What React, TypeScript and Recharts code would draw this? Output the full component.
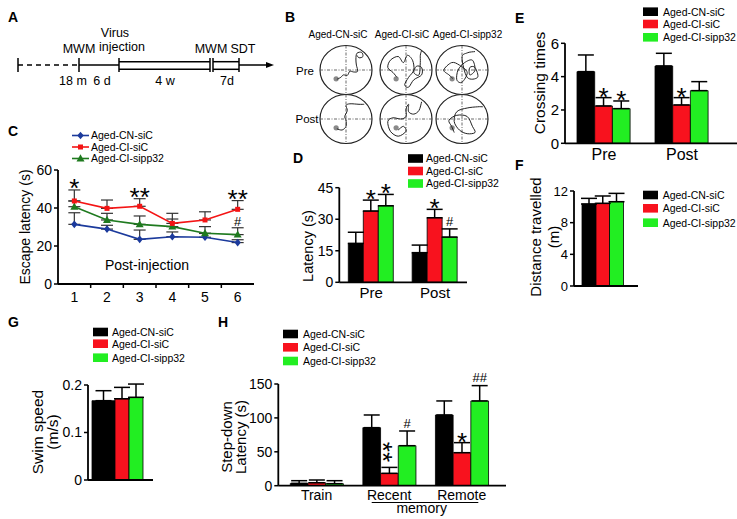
import React from "react";
import { BarChart, Bar, LineChart, Line, XAxis, YAxis, ErrorBar, LabelList } from "recharts";

const FONT = '"Liberation Sans", Arial, Helvetica, sans-serif';

// groups shared by every panel
const groupNames = ["Aged-CN-siC", "Aged-CI-siC", "Aged-CI-sipp32"];
const barFill = ["#000000", "#f8121e", "#22ee22"];
const lineStroke = ["#1b3a9c", "#f41414", "#1f7a1f"];

// C: escape latency by day
const days = [1, 2, 3, 4, 5, 6];
const escapeCN = [31.4, 28.9, 23.5, 24.9, 24.6, 21.8];
const escapeCNErr = [6.1, 2.0, 4.9, 2.5, 2.0, 1.5];
const escapeCI = [43.7, 39.8, 40.9, 31.9, 33.7, 39.3];
const escapeCIErr = [5.8, 4.4, 4.0, 5.3, 4.3, 4.6];
const escapeSi = [40.7, 33.7, 31.4, 30.2, 26.7, 26.0];
const escapeSiErr = [3.0, 3.5, 4.4, 4.0, 3.5, 3.6];
const escapeCISig = ["*", "", "**", "", "", "**"];
const escapeSiSig = ["", "", "", "", "", "#"];

// D: latency
const dCats = ["Pre", "Post"];
const dValues = [[18.5, 14.1], [33.9, 30.7], [36.4, 21.5]];
const dErrors = [[5.3, 3.6], [5.2, 4.0], [5.4, 3.9]];
const dSigs = [["", ""], ["*", "*"], ["*", "#"]];

// E: crossing times
const eCats = ["Pre", "Post"];
const eValues = [[4.3, 4.64], [2.24, 2.3], [2.08, 3.16]];
const eErrors = [[1.0, 0.76], [0.5, 0.44], [0.46, 0.54]];
const eSigs = [["", ""], ["*", "*"], ["*", ""]];

// F: distance travelled
const fCats = [""];
const fValues = [[10.36], [10.44], [10.65]];
const fErrors = [[0.71], [0.93], [1.05]];

// G: swim speed
const gCats = [""];
const gValues = [[0.167], [0.171], [0.174]];
const gErrors = [[0.021], [0.024], [0.028]];

// H: step-down latency ("|" = stars stacked vertically)
const hCats = ["Train", "Recent", "Remote"];
const hValues = [[3.4, 85.6, 104.3], [4.4, 18.2, 48.7], [3.0, 59.0, 125.0]];
const hErrors = [[4.0, 18.7, 20.7], [4.0, 8.8, 14.8], [4.4, 21.7, 22.6]];
const hSigs = [["", "", ""], ["", "|**", "*"], ["", "#", "##"]];

// B: swim tracks (unit circle coords)
const tracks: number[][][] = [
  [[-0.35, 0.38], [-0.2, 0.3], [-0.1, 0.2], [0.05, 0.22], [0.15, 0.05], [0.3, 0.08], [0.45, 0.05], [0.4, -0.2], [0.38, -0.45], [0.42, -0.68], [0.6, -0.72], [0.65, -0.55], [0.5, -0.5], [0.42, -0.6]],
  [[-0.35, 0.3], [-0.5, 0.1], [-0.7, -0.1], [-0.6, -0.4], [-0.3, -0.55], [-0.1, -0.3], [0.05, -0.6], [0.25, -0.4], [0.3, 0.0], [0.1, 0.3], [-0.05, 0.6], [0.1, 0.7], [0.3, 0.4], [0.6, 0.2], [0.6, -0.1], [0.4, -0.15], [0.3, 0.1], [0.5, 0.2], [0.55, -0.3], [0.55, -0.6], [0.6, -0.8]],
  [[-0.35, 0.35], [-0.5, 0.2], [-0.7, 0.0], [-0.4, -0.3], [-0.1, -0.2], [0.2, 0.1], [0.0, 0.5], [-0.2, 0.4], [-0.15, 0.0], [0.1, -0.3], [0.4, -0.4], [0.5, 0.0], [0.3, 0.2], [0.3, -0.1], [0.5, -0.1], [0.6, 0.3], [0.2, 0.3], [0.0, -0.5], [0.2, -0.7], [0.5, -0.75]],
  [[-0.35, 0.4], [-0.15, 0.45], [0.0, 0.3], [0.0, 0.05], [-0.05, -0.1], [0.05, -0.35], [0.0, -0.55], [0.15, -0.62], [0.5, -0.6], [0.7, -0.6]],
  [[-0.3, 0.45], [-0.1, 0.3], [0.0, 0.5], [-0.3, 0.7], [-0.6, 0.5], [-0.7, 0.1], [-0.5, -0.05], [-0.2, 0.0], [0.0, -0.1], [0.0, -0.4], [0.1, -0.6], [0.1, -0.3], [0.3, -0.2], [0.5, -0.35], [0.6, -0.7]],
  [[-0.3, 0.55], [-0.4, 0.3], [-0.5, 0.05], [-0.2, -0.15], [0.2, -0.1], [0.4, 0.3], [0.5, 0.55], [0.2, 0.6], [-0.1, 0.45], [-0.3, 0.1], [-0.2, -0.3], [0.2, -0.45], [0.6, -0.5], [0.8, -0.5]],
];

const axisStyle = { stroke: "#000", strokeWidth: 1.8 };
const tickLineStyle = { stroke: "#000", strokeWidth: 1.5 };

function SigMark({ cx, base, text, gap = 7 }: { cx: number; base: number; text: string; gap?: number }) {
  if (text.startsWith("|")) {
    // vertical stack: horizontal stars turned a quarter turn
    const cy = base - 15.5;
    return (
      <text x={cx} y={cy + 15} fontSize={26} textAnchor="middle" fill="#000"
        transform={`rotate(90 ${cx} ${cy})`}>{text.slice(1)}</text>
    );
  }
  if (text.startsWith("*")) {
    return <text x={cx} y={base - gap + 15} fontSize={26} textAnchor="middle" fill="#000">{text}</text>;
  }
  return <text x={cx} y={base - gap - 1 + 4.7} fontSize={13} textAnchor="middle" fill="#000">{text}</text>;
}

const sigContent = (errs: number[], k: number, gap = 7) => (props: any) => {
  const text = props.value;
  if (!text) return null;
  const vb = props.viewBox && typeof props.viewBox.x === "number" ? props.viewBox : props;
  const i = props.index ?? 0;
  const cx = vb.x + (vb.width || 0) / 2;
  const top = vb.y - errs[i] * k;
  return <SigMark cx={cx} base={top} text={String(text)} gap={gap} />;
};

type BarPanelProps = {
  left: number; top: number; width: number; height: number;
  plotTop: number; yAxisWidth: number; right: number; xAxisHeight: number;
  cats: string[]; values: number[][]; errors: number[][]; sigs?: string[][];
  sizes: number[]; yMax: number; yTicks: number[];
  tickFont: number; catFont: number; catOffset: number;
  padLeft?: number; padRight?: number;
};

function BarPanel(p: BarPanelProps) {
  const plotH = p.height - p.plotTop - p.xAxisHeight;
  const k = plotH / p.yMax;
  const data = p.cats.map((c, i) => {
    const row: Record<string, any> = { cat: c };
    p.values.forEach((vals, s) => {
      row[`v${s}`] = vals[i];
      row[`e${s}`] = [0, p.errors[s][i]];
      row[`s${s}`] = p.sigs ? p.sigs[s][i] : "";
    });
    return row;
  });
  return (
    <div style={{ position: "absolute", left: p.left, top: p.top }}>
      <BarChart width={p.width} height={p.height} data={data} barGap={0}
        margin={{ top: p.plotTop, right: p.right, left: 0, bottom: 0 }}>
        <XAxis dataKey="cat" height={p.xAxisHeight} tickLine={false} tickSize={0} tickMargin={0}
          axisLine={axisStyle} interval={0}
          padding={{ left: p.padLeft ?? 0, right: p.padRight ?? 0 }}
          tick={(t: any) => (
            <text x={t.x} y={t.y + p.catOffset} textAnchor="middle" fontSize={p.catFont} fill="#000">
              {t.payload.value}
            </text>
          )} />
        <YAxis width={p.yAxisWidth} domain={[0, p.yMax]} ticks={p.yTicks} allowDataOverflow interval={0}
          tickSize={4} tickMargin={2} axisLine={axisStyle} tickLine={tickLineStyle}
          tick={{ fill: "#000", fontSize: p.tickFont }} />
        {p.values.map((_, s) => (
          <Bar key={s} dataKey={`v${s}`} fill={barFill[s]} stroke="#000" strokeWidth={0.8}
            barSize={p.sizes[s]} isAnimationActive={false}>
            <ErrorBar dataKey={`e${s}`} width={8} stroke="#000" strokeWidth={1.5} />
            <LabelList dataKey={`s${s}`} content={sigContent(p.errors[s], k)} />
          </Bar>
        ))}
      </BarChart>
    </div>
  );
}

function Diamond(props: any) {
  const { cx, cy, index } = props;
  if (cx == null || cy == null) return <g key={`dn-${index}`} />;
  return <polygon key={`d-${index}`} points={`${cx},${cy - 3.8} ${cx + 3.2},${cy} ${cx},${cy + 3.8} ${cx - 3.2},${cy}`} fill={lineStroke[0]} />;
}
function Square(props: any) {
  const { cx, cy, index } = props;
  if (cx == null || cy == null) return <g key={`sn-${index}`} />;
  return <rect key={`s-${index}`} x={cx - 2.5} y={cy - 2.5} width={5} height={5} fill={lineStroke[1]} />;
}
function Triangle(props: any) {
  const { cx, cy, index } = props;
  if (cx == null || cy == null) return <g key={`tn-${index}`} />;
  return <polygon key={`t-${index}`} points={`${cx},${cy - 4.2} ${cx + 4},${cy + 3} ${cx - 4},${cy + 3}`} fill={lineStroke[2]} />;
}

function EscapeChart() {
  const k = 114 / 60;
  const data = days.map((d, i) => ({
    day: d,
    cn: escapeCN[i], cnE: [0, escapeCNErr[i]],
    ci: escapeCI[i], ciE: [0, escapeCIErr[i]], ciS: escapeCISig[i],
    si: escapeSi[i], siE: [0, escapeSiErr[i]], siS: escapeSiSig[i],
  }));
  const ticks = [...days, ...days.slice(0, -1).map((d) => d + 0.5)].sort((a, b) => a - b);
  return (
    <div style={{ position: "absolute", left: 0, top: 120 }}>
      <LineChart width={270} height={200} data={data} margin={{ top: 50, right: 16, left: 0, bottom: 0 }}>
        <XAxis dataKey="day" type="number" domain={[0.5, 6.5]} ticks={ticks} interval={0} allowDataOverflow
          height={36} tickLine={false} tickSize={0} tickMargin={0} axisLine={axisStyle}
          tick={(t: any) =>
            Number.isInteger(t.payload.value) ? (
              <text x={t.x} y={t.y + 17.5} textAnchor="middle" fontSize={14} fill="#000">{t.payload.value}</text>
            ) : (
              <line x1={t.x} x2={t.x} y1={t.y} y2={t.y + 4} stroke="#000" strokeWidth={1.5} />
            )
          } />
        <YAxis width={58} domain={[0, 60]} ticks={[0, 20, 40, 60]} interval={0} allowDataOverflow
          tickSize={4} tickMargin={2} axisLine={axisStyle} tickLine={tickLineStyle}
          tick={{ fill: "#000", fontSize: 14 }} />
        <Line dataKey="cn" stroke={lineStroke[0]} strokeWidth={1.6} dot={Diamond} isAnimationActive={false}>
          <ErrorBar dataKey="cnE" width={6} stroke="#333" strokeWidth={1.2} />
        </Line>
        <Line dataKey="si" stroke={lineStroke[2]} strokeWidth={1.6} dot={Triangle} isAnimationActive={false}>
          <ErrorBar dataKey="siE" width={6} stroke="#333" strokeWidth={1.2} />
          <LabelList dataKey="siS" content={sigContent(escapeSiErr, k, 5)} />
        </Line>
        <Line dataKey="ci" stroke={lineStroke[1]} strokeWidth={1.6} dot={Square} isAnimationActive={false}>
          <ErrorBar dataKey="ciE" width={6} stroke="#333" strokeWidth={1.2} />
          <LabelList dataKey="ciS" content={sigContent(escapeCIErr, k, 7.5)} />
        </Line>
      </LineChart>
    </div>
  );
}

function smoothPath(pts: number[][]) {
  let d = `M${pts[0][0].toFixed(1)},${pts[0][1].toFixed(1)}`;
  for (let i = 0; i < pts.length - 1; i++) {
    const p0 = pts[i - 1] || pts[i];
    const p1 = pts[i];
    const p2 = pts[i + 1];
    const p3 = pts[i + 2] || p2;
    const c1 = [p1[0] + (p2[0] - p0[0]) / 6, p1[1] + (p2[1] - p0[1]) / 6];
    const c2 = [p2[0] - (p3[0] - p1[0]) / 6, p2[1] - (p3[1] - p1[1]) / 6];
    d += ` C${c1[0].toFixed(1)},${c1[1].toFixed(1)} ${c2[0].toFixed(1)},${c2[1].toFixed(1)} ${p2[0].toFixed(1)},${p2[1].toFixed(1)}`;
  }
  return d;
}

function BoxLegend({ x, ys, textX }: { x: number; ys: number[]; textX: number }) {
  return (
    <g>
      {groupNames.map((n, i) => (
        <g key={n}>
          <rect x={x} y={ys[i] - 4.3} width={15} height={8.6} fill={barFill[i]} />
          <text x={textX} y={ys[i] + 3.8} fontSize={10.5} fill="#000">{n}</text>
        </g>
      ))}
    </g>
  );
}

function VLabel({ cx, cy, lines, size }: { cx: number[]; cy: number; lines: string[]; size: number }) {
  return (
    <g>
      {lines.map((l, i) => (
        <text key={i} x={cx[i]} y={cy} fontSize={size} textAnchor="middle" dominantBaseline="central"
          transform={`rotate(-90 ${cx[i]} ${cy})`} fill="#000">{l}</text>
      ))}
    </g>
  );
}

function Overlay() {
  const cols = [346, 406, 462];
  const rows = [70, 119];
  const rx = 26, ry = 24.5;
  const markers = [Diamond, Square, Triangle];
  return (
    <svg width={737} height={519} style={{ position: "absolute", left: 0, top: 0, pointerEvents: "none" }}>
      <g fontWeight="bold" fontSize={14} fill="#000">
        <text x={8} y={22}>A</text>
        <text x={285} y={22}>B</text>
        <text x={8} y={136}>C</text>
        <text x={293} y={163}>D</text>
        <text x={515} y={23}>E</text>
        <text x={515} y={170}>F</text>
        <text x={8} y={327}>G</text>
        <text x={218} y={327}>H</text>
      </g>

      {/* A: timeline */}
      <g stroke="#000" strokeWidth={1.5} fill="none">
        <line x1={18} x2={79} y1={65} y2={65} strokeDasharray="5 4" />
        <line x1={79} x2={119} y1={65} y2={65} />
        <line x1={119} x2={210} y1={61.7} y2={61.7} />
        <line x1={119} x2={210} y1={69.3} y2={69.3} />
        <line x1={213} x2={239} y1={61.7} y2={61.7} />
        <line x1={213} x2={239} y1={69.3} y2={69.3} />
        <line x1={239} x2={268} y1={65} y2={65} />
        {[18, 79, 119, 210, 213, 239].map((x) => (
          <line key={x} x1={x} x2={x} y1={58} y2={72} />
        ))}
      </g>
      <polygon points="266,62 274,65 266,68" fill="#000" />
      <g fontSize={12.5} textAnchor="middle" fill="#000">
        <text x={79} y={53}>MWM</text>
        <text x={115} y={37}>Virus</text>
        <text x={122} y={51}>injection</text>
        <text x={211} y={53}>MWM</text>
        <text x={243} y={53}>SDT</text>
        <text x={73} y={85}>18 m</text>
        <text x={102} y={85}>6 d</text>
        <text x={165} y={85}>4 w</text>
        <text x={227} y={85}>7d</text>
      </g>

      {/* B: swim paths */}
      <g fontSize={10} textAnchor="middle" fill="#000">
        <text x={338} y={38}>{groupNames[0]}</text>
        <text x={402} y={38}>{groupNames[1]}</text>
        <text x={467.5} y={38}>{groupNames[2]}</text>
        <text x={305} y={75} fontSize={11.5}>Pre</text>
        <text x={307} y={123} fontSize={11.5}>Post</text>
      </g>
      {rows.map((cy, r) =>
        cols.map((cx, c) => {
          const pts = tracks[r * 3 + c].map(([u, v]) => [cx + u * rx, cy + v * ry]);
          return (
            <g key={`${r}-${c}`}>
              <ellipse cx={cx} cy={cy} rx={rx} ry={ry} fill="#fff" stroke="#222" strokeWidth={1.2} />
              <line x1={cx - rx} x2={cx + rx} y1={cy} y2={cy} stroke="#444" strokeWidth={0.8} strokeDasharray="3 1.5 1 1.5" />
              <line x1={cx} x2={cx} y1={cy - ry} y2={cy + ry} stroke="#444" strokeWidth={0.8} strokeDasharray="3 1.5 1 1.5" />
              <circle cx={cx - 0.38 * rx} cy={cy + 0.36 * ry} r={2.6} fill="#8a8a8a" />
              <path d={smoothPath(pts)} fill="none" stroke="#222" strokeWidth={1} />
            </g>
          );
        })
      )}

      {/* C legend + labels */}
      {groupNames.map((n, i) => {
        const y = [135.5, 147, 158.5][i];
        const M = markers[i];
        return (
          <g key={n}>
            <line x1={72} x2={89} y1={y} y2={y} stroke={lineStroke[i]} strokeWidth={1.6} />
            <M cx={80.5} cy={y} index={100 + i} />
            <text x={91} y={y + 3.8} fontSize={10.5} fill="#000">{n}</text>
          </g>
        );
      })}
      <VLabel cx={[25]} cy={227} lines={["Escape latency (s)"]} size={14} />
      <text x={147} y={269.5} fontSize={14} textAnchor="middle" fill="#000">Post-injection</text>

      {/* D */}
      <BoxLegend x={408} ys={[158.5, 171, 183.5]} textX={426} />
      <VLabel cx={[307.5]} cy={246} lines={["Latency (s)"]} size={14.5} />

      {/* E */}
      <BoxLegend x={643} ys={[11.7, 24, 37.3]} textX={663} />
      <VLabel cx={[539]} cy={83} lines={["Crossing times"]} size={15.5} />

      {/* F */}
      <BoxLegend x={643} ys={[195, 208.3, 222.7]} textX={662.7} />
      <VLabel cx={[535.5, 553]} cy={237} lines={["Distance travelled", "(m)"]} size={15} />

      {/* G */}
      <BoxLegend x={93} ys={[332, 343.7, 357.7]} textX={112} />
      <VLabel cx={[37.5, 52.5]} cy={432} lines={["Swim speed", "(m/s)"]} size={15.5} />

      {/* H */}
      <BoxLegend x={283} ys={[334, 347.3, 361]} textX={303} />
      <VLabel cx={[226.7, 240.8]} cy={437} lines={["Step-down", "Latency (s)"]} size={15} />
      <line x1={371.7} x2={478.3} y1={502.5} y2={502.5} stroke="#000" strokeWidth={1.2} />
      <text x={421.7} y={513} fontSize={14} textAnchor="middle" fill="#000">memory</text>
    </svg>
  );
}

export default function App() {
  return (
    <div style={{ position: "absolute", left: 0, top: 0, width: 737, height: 519, background: "#fff", fontFamily: FONT, overflow: "hidden" }}>
      <EscapeChart />
      <BarPanel left={280} top={150} width={200} height={160} plotTop={37.7} yAxisWidth={59.3} right={13}
        xAxisHeight={27.7} cats={dCats} values={dValues} errors={dErrors} sigs={dSigs}
        sizes={[15, 15, 15]} yMax={45} yTicks={[0, 15, 30, 45]} tickFont={14} catFont={15} catOffset={15.4} />
      <BarPanel left={500} top={0} width={237} height={165} plotTop={43.3} yAxisWidth={65} right={0}
        xAxisHeight={21.7} cats={eCats} values={eValues} errors={eErrors} sigs={eSigs}
        sizes={[17.7, 17.7, 17.7]} yMax={6} yTicks={[0, 2, 4, 6]} tickFont={15} catFont={16} catOffset={16.7}
        padRight={16} />
      <BarPanel left={500} top={165} width={140} height={140} plotTop={26} yAxisWidth={74} right={2}
        xAxisHeight={19} cats={fCats} values={fValues} errors={fErrors}
        sizes={[14, 13.5, 14]} yMax={12} yTicks={[0, 4, 8, 12]} tickFont={13} catFont={14} catOffset={15}
        padRight={6} />
      <BarPanel left={0} top={360} width={160} height={140} plotTop={25} yAxisWidth={88} right={7}
        xAxisHeight={20} cats={gCats} values={gValues} errors={gErrors}
        sizes={[23, 14, 14]} yMax={0.2} yTicks={[0, 0.1, 0.2]} tickFont={14} catFont={14} catOffset={15}
        padRight={7} />
      <BarPanel left={200} top={340} width={310} height={179} plotTop={44} yAxisWidth={78.3} right={4}
        xAxisHeight={33.3} cats={hCats} values={hValues} errors={hErrors} sigs={hSigs}
        sizes={[17.7, 17.7, 17.7]} yMax={150} yTicks={[0, 50, 100, 150]} tickFont={14} catFont={14} catOffset={14.3}
        padLeft={2} padRight={8} />
      <Overlay />
    </div>
  );
}
